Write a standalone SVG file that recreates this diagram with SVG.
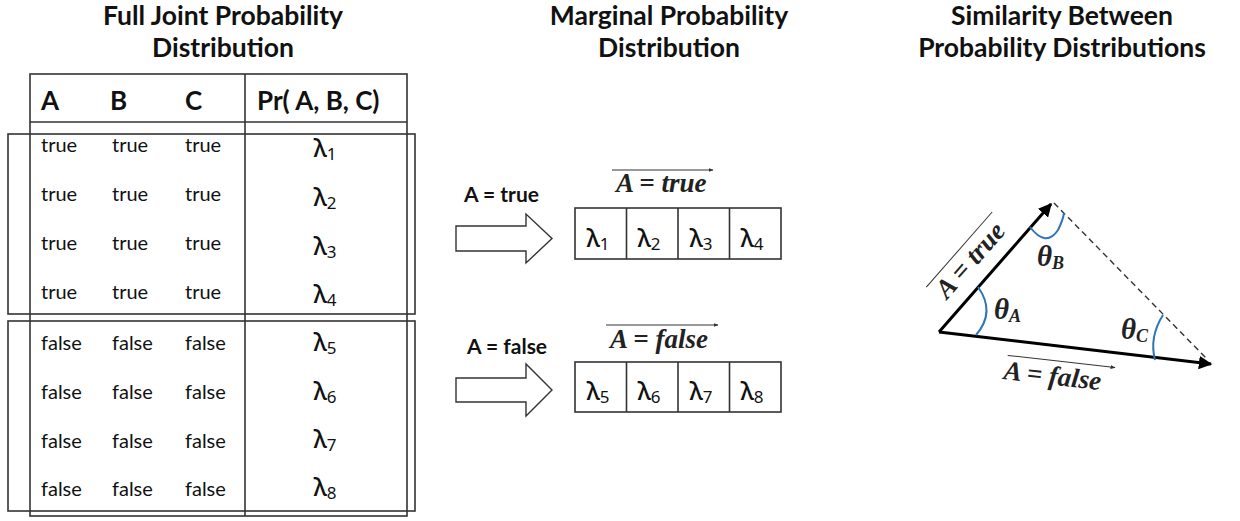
<svg xmlns="http://www.w3.org/2000/svg" width="1240" height="521" viewBox="0 0 1240 521">
<style>
.title{font-family:Lato,"Liberation Sans",sans-serif;font-weight:bold;font-size:26.5px;fill:#111;text-anchor:middle}
.hdr{font-family:Lato,"Liberation Sans",sans-serif;font-weight:bold;font-size:26px;fill:#111}
.cell{font-family:Lato,"Liberation Sans",sans-serif;font-size:20px;fill:#111}
.lam{font-family:"Noto Sans","DejaVu Sans",sans-serif;font-size:25px;font-weight:500;fill:#111;text-anchor:middle}
.sub{font-size:17px;font-weight:normal}
.lbl{font-family:Lato,"Liberation Sans",sans-serif;font-weight:bold;font-size:21px;fill:#111}
.math{font-family:"Liberation Serif","DejaVu Serif",serif;font-style:italic;font-weight:bold;font-size:27px;fill:#222}
.theta{font-family:"Liberation Serif","DejaVu Serif",serif;font-style:italic;font-weight:bold;font-size:29px;fill:#222}
.tsub{font-size:18px}
.ln{fill:none;stroke:#333;stroke-width:1.6}
.box{fill:#fff;stroke:#333;stroke-width:1.6}
.blk{fill:#fff;stroke:#333;stroke-width:1.4}
.vec{fill:none;stroke:#000;stroke-width:3}
.dash{fill:none;stroke:#333;stroke-width:1.4;stroke-dasharray:6 4}
.arc{fill:none;stroke:#2E75B6;stroke-width:2}
.ovl{fill:none;stroke:#333;stroke-width:1}
</style>
<defs>
<marker id="ah" viewBox="0 0 10 10" refX="9" refY="5" markerWidth="4.5" markerHeight="4.5" orient="auto" markerUnits="strokeWidth">
<path d="M0,0 L10,5 L0,10 z" fill="#000"/>
</marker>
<marker id="sah" viewBox="0 0 10 10" refX="9" refY="5" markerWidth="5" markerHeight="5" orient="auto" markerUnits="strokeWidth">
<path d="M0,1 L10,5 L0,9 z" fill="#333"/>
</marker>
</defs>

<g id="title-joint">
<text class="title" x="223" y="25">Full Joint Probability</text>
<text class="title" x="223" y="57">Distribution</text>
</g>
<g id="title-marginal">
<text class="title" x="669" y="25">Marginal Probability</text>
<text class="title" x="669" y="57">Distribution</text>
</g>
<g id="title-similarity">
<text class="title" x="1062" y="25">Similarity Between</text>
<text class="title" x="1062" y="57">Probability Distributions</text>
</g>

<g id="table">
<rect class="ln" x="30" y="74" width="377" height="442"/>
<line class="ln" x1="30" y1="122" x2="407" y2="122"/>
<line class="ln" x1="245" y1="74" x2="245" y2="516"/>
<text class="hdr" x="41" y="110">A</text>
<text class="hdr" x="110" y="110">B</text>
<text class="hdr" x="185" y="110">C</text>
<text class="hdr" x="257" y="110">Pr( A, B, C)</text>
</g>

<g id="group-true">
<rect class="ln" x="8" y="134" width="407" height="180"/>
<g class="cell">
<text x="41" y="152">true</text><text x="112" y="152">true</text><text x="185" y="152">true</text>
<text x="41" y="201">true</text><text x="112" y="201">true</text><text x="185" y="201">true</text>
<text x="41" y="250">true</text><text x="112" y="250">true</text><text x="185" y="250">true</text>
<text x="41" y="299">true</text><text x="112" y="299">true</text><text x="185" y="299">true</text>
</g>
<text class="lam" x="325" y="157">λ<tspan class="sub" dy="3">1</tspan></text>
<text class="lam" x="325" y="206">λ<tspan class="sub" dy="3">2</tspan></text>
<text class="lam" x="325" y="255">λ<tspan class="sub" dy="3">3</tspan></text>
<text class="lam" x="325" y="303">λ<tspan class="sub" dy="3">4</tspan></text>
</g>

<g id="group-false">
<rect class="ln" x="8" y="321" width="407" height="190"/>
<g class="cell">
<text x="41" y="350">false</text><text x="112" y="350">false</text><text x="185" y="350">false</text>
<text x="41" y="399">false</text><text x="112" y="399">false</text><text x="185" y="399">false</text>
<text x="41" y="448">false</text><text x="112" y="448">false</text><text x="185" y="448">false</text>
<text x="41" y="496">false</text><text x="112" y="496">false</text><text x="185" y="496">false</text>
</g>
<text class="lam" x="325" y="351">λ<tspan class="sub" dy="3">5</tspan></text>
<text class="lam" x="325" y="400">λ<tspan class="sub" dy="3">6</tspan></text>
<text class="lam" x="325" y="448">λ<tspan class="sub" dy="3">7</tspan></text>
<text class="lam" x="325" y="496">λ<tspan class="sub" dy="3">8</tspan></text>
</g>

<g id="marginal-true">
<text class="math" x="616" y="192">A = true</text>
<line class="ovl" x1="612" y1="170" x2="713" y2="170" marker-end="url(#sah)"/>
<rect class="box" x="575" y="208" width="206" height="51"/>
<line class="ln" x1="626.5" y1="208" x2="626.5" y2="259"/>
<line class="ln" x1="678" y1="208" x2="678" y2="259"/>
<line class="ln" x1="729.5" y1="208" x2="729.5" y2="259"/>
<text class="lam" x="598" y="247">λ<tspan class="sub" dy="3">1</tspan></text>
<text class="lam" x="649" y="247">λ<tspan class="sub" dy="3">2</tspan></text>
<text class="lam" x="701" y="247">λ<tspan class="sub" dy="3">3</tspan></text>
<text class="lam" x="752" y="247">λ<tspan class="sub" dy="3">4</tspan></text>
</g>

<g id="marginal-false">
<text class="math" x="610" y="348">A = false</text>
<line class="ovl" x1="606" y1="325" x2="718" y2="325" marker-end="url(#sah)"/>
<rect class="box" x="575" y="362" width="206" height="50"/>
<line class="ln" x1="626.5" y1="362" x2="626.5" y2="412"/>
<line class="ln" x1="678" y1="362" x2="678" y2="412"/>
<line class="ln" x1="729.5" y1="362" x2="729.5" y2="412"/>
<text class="lam" x="598" y="400">λ<tspan class="sub" dy="3">5</tspan></text>
<text class="lam" x="649" y="400">λ<tspan class="sub" dy="3">6</tspan></text>
<text class="lam" x="701" y="400">λ<tspan class="sub" dy="3">7</tspan></text>
<text class="lam" x="752" y="400">λ<tspan class="sub" dy="3">8</tspan></text>
</g>

<g id="connectors">
<g id="arrow-true">
<text class="lbl" x="464" y="202">A = true</text>
<polygon class="blk" points="456,226 526,226 526,214 552,238.5 526,263 526,251 456,251"/>
</g>
<g id="arrow-false">
<text class="lbl" x="467" y="354">A = false</text>
<polygon class="blk" points="456,378 526,378 526,364 552,390 526,416 526,402 456,402"/>
</g>
<g id="vectors">
<line class="dash" x1="1054" y1="203" x2="1208" y2="360"/>
<line class="vec" x1="939" y1="332" x2="1051" y2="204" marker-end="url(#ah)"/>
<line class="vec" x1="939" y1="332" x2="1211" y2="364" marker-end="url(#ah)"/>
</g>
</g>

<g id="similarity">
<path class="arc" d="M978,287 Q996,312 976,335"/>
<path class="arc" d="M1030,227 Q1046,248 1058,230 Q1063,220 1064,213"/>
<path class="arc" d="M1163,315 Q1149,337 1155,360"/>
<text class="theta" x="994" y="319">θ<tspan class="tsub" dy="3">A</tspan></text>
<text class="theta" x="1037" y="266">θ<tspan class="tsub" dy="3">B</tspan></text>
<text class="theta" x="1121" y="339">θ<tspan class="tsub" dy="3">C</tspan></text>
<g transform="translate(947,300) rotate(-48.8)">
<text class="math" x="0" y="0">A = true</text>
<line class="ovl" x1="-4" y1="-24" x2="96" y2="-24"/>
</g>
<g transform="translate(1003,379) rotate(6.5)">
<text class="math" x="0" y="0">A = false</text>
<line class="ovl" x1="2" y1="-24" x2="110" y2="-24" marker-end="url(#sah)"/>
</g>
</g>
</svg>
